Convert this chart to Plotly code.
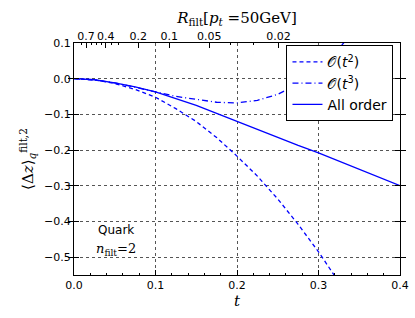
import plotly.graph_objects as go

# Data
t_vals = [0.0, 0.025, 0.05, 0.075, 0.1, 0.125, 0.15, 0.175, 0.2, 0.225, 0.25,
          0.275, 0.3, 0.325, 0.35, 0.375, 0.4]
o_t2 = [0.0, -0.0034, -0.0135, -0.030, -0.052, -0.084, -0.12, -0.165, -0.217,
        -0.273, -0.337, -0.408, -0.485, -0.57, None, None, None]
o_t3 = [0.0, -0.0032, -0.0116, -0.0234, -0.0367, -0.0496, -0.058, -0.066, -0.068,
        -0.0605, -0.044, -0.015, 0.026, 0.083, 0.157, None, None]
all_order = [0.0, -0.003, -0.012, -0.023, -0.037, -0.055, -0.075, -0.097, -0.12,
             -0.142, -0.165, -0.187, -0.208, -0.231, -0.254, -0.277, -0.30]

# Top axis: R_filt labels and their t positions
r_labels = ["0.7", "0.4", "0.2", "0.1", "0.05", "0.02"]
r_tpos = [0.0148, 0.039, 0.0787, 0.117, 0.166, 0.251]
r_minor_tpos = [0.0086, 0.0209, 0.0271, 0.0332, 0.0455, 0.0541, 0.1926, 0.2205]

x_ticks = [0.0, 0.1, 0.2, 0.3, 0.4]
y_ticks = [0.1, 0.0, -0.1, -0.2, -0.3, -0.4, -0.5]

SERIF = "DejaVu Serif"
SANS = "DejaVu Sans"

fig = go.Figure()
fig.add_trace(go.Scatter(x=t_vals, y=o_t2, mode="lines", name="𝒪(<i>t</i><sup>2</sup>)",
                         line=dict(color="blue", width=1.3, dash="4px,3px")))
fig.add_trace(go.Scatter(x=t_vals, y=o_t3, mode="lines", name="𝒪(<i>t</i><sup>3</sup>)",
                         line=dict(color="blue", width=1.3, dash="6px,3px,1px,3px")))
fig.add_trace(go.Scatter(x=t_vals, y=all_order, mode="lines", name="All order",
                         line=dict(color="blue", width=1.3)))
# invisible trace for top axis
fig.add_trace(go.Scatter(x=[0, 0.4], y=[None, None], xaxis="x2", showlegend=False,
                         hoverinfo="skip"))

fig.update_layout(
    width=415, height=318,
    margin=dict(l=74, r=15, t=43, b=43, autoexpand=False),
    paper_bgcolor="white", plot_bgcolor="white",
    font=dict(family=SANS, size=11, color="black"),
    showlegend=True,
    legend=dict(x=0.98, y=0.99, xanchor="right", yanchor="top",
                bordercolor="black", borderwidth=1, bgcolor="white",
                font=dict(family=SANS, size=14), tracegroupgap=0,
                itemwidth=30),
    xaxis=dict(range=[0, 0.4], tickvals=x_ticks, ticktext=[f"{v:.1f}" for v in x_ticks],
               ticks="inside", ticklen=5, tickcolor="black", showline=True,
               linecolor="black", linewidth=1, mirror=True, tickangle=0,
               automargin=False,
               showgrid=True, gridcolor="#555", griddash="dot", gridwidth=1,
               zeroline=False,
               minor=dict(dtick=0.02, tick0=0, ticks="inside", ticklen=2,
                          tickcolor="black", showgrid=False),
               title=dict(text="<i>t</i>", font=dict(family=SERIF, size=15), standoff=4)),
    xaxis2=dict(range=[0, 0.4], overlaying="x", side="top", tickvals=r_tpos,
                ticktext=r_labels, ticks="inside", ticklen=5, tickcolor="black",
                tickangle=0, tickfont=dict(size=11), automargin=False,
                showgrid=False, zeroline=False, showline=False,
                minor=dict(tickvals=r_minor_tpos, ticks="inside", ticklen=2,
                           tickcolor="black", showgrid=False),
                title=dict(text="<i>R</i><sub>filt</sub>[<i>p</i><sub><i>t</i></sub> =50GeV]",
                           font=dict(family=SERIF, size=15), standoff=2)),
    yaxis=dict(range=[-0.55, 0.1], tickvals=y_ticks,
               ticktext=[f"{v:.1f}".replace("-", "\u2212") for v in y_ticks],
               ticks="inside", ticklen=5, tickcolor="black", showline=True,
               linecolor="black", linewidth=1, mirror="allticks", automargin=False,
               showgrid=True, gridcolor="#555", griddash="dot", gridwidth=1,
               zeroline=False,
               title=dict(text="⟨Δ<i>z</i>⟩<sub><i>q</i></sub><sup>filt,2</sup>",
                          font=dict(family=SERIF, size=15), standoff=6)),
)

fig.add_annotation(x=0.051, y=-0.425, text="Quark", showarrow=False,
                   font=dict(family=SANS, size=12))
fig.add_annotation(x=0.051, y=-0.478, text="<i>n</i><sub>filt</sub>=2", showarrow=False,
                   font=dict(family=SERIF, size=13))

fig.write_html("out.html", config={"displayModeBar": False},
               post_script="document.body.style.margin='0';document.body.style.overflow='hidden';")
